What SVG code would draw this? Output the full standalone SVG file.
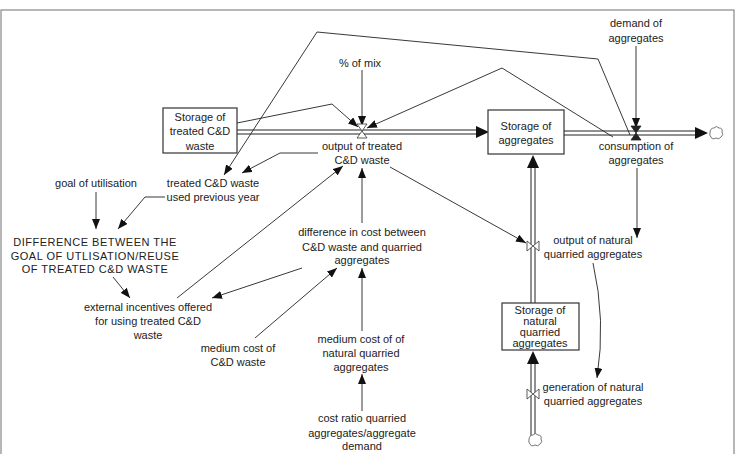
<svg xmlns="http://www.w3.org/2000/svg" width="739" height="454" viewBox="0 0 739 454">
<style>
text{font-family:"Liberation Sans",Arial,sans-serif;font-size:11px;fill:#222;text-anchor:middle}
.caps{font-size:11px;letter-spacing:0.5px}
.box{fill:#fff;stroke:#333;stroke-width:1.2}
.pipe{fill:none;stroke:#222;stroke-width:1}
.lnk{fill:none;stroke:#222;stroke-width:0.9}
.valve{fill:#fff;stroke:#333;stroke-width:0.8}
.ph{fill:#111}
.cloud{fill:#fff;stroke:#666;stroke-width:0.9}
</style>
<defs>
<marker id="ah" markerUnits="userSpaceOnUse" markerWidth="11" markerHeight="8" refX="10" refY="4" orient="auto">
<path d="M0,0 L10,4 L0,8 z" fill="#111"/>
</marker>
</defs>
<rect x="1" y="10" width="733" height="460" fill="#fff" stroke="#888" stroke-width="1.2"/>

<g id="pipes">
<line class="pipe" x1="237" y1="130" x2="478" y2="130"/>
<line class="pipe" x1="237" y1="134" x2="478" y2="134"/>
<path class="ph" d="M476,126 L489,132 L476,138 z"/>
<line class="pipe" x1="564" y1="131" x2="697" y2="131"/>
<line class="pipe" x1="564" y1="135" x2="697" y2="135"/>
<path class="ph" d="M695,127 L708,133 L695,139 z"/>
<line class="pipe" x1="531" y1="303" x2="531" y2="166"/>
<line class="pipe" x1="535" y1="303" x2="535" y2="166"/>
<path class="ph" d="M527,168 L533,155 L539,168 z"/>
<line class="pipe" x1="531" y1="437" x2="531" y2="362"/>
<line class="pipe" x1="535" y1="437" x2="535" y2="362"/>
<path class="ph" d="M527,364 L533,351 L539,364 z"/>
</g>

<g id="connectors">
<line class="lnk" x1="362" y1="70" x2="362" y2="126" marker-end="url(#ah)"/>
<polyline class="lnk" points="237,123 332,104 358,127" marker-end="url(#ah)"/>
<polyline class="lnk" points="613,137 502,68 367,128" marker-end="url(#ah)"/>
<polyline class="lnk" points="630,135 598,59 317,32 224,175" marker-end="url(#ah)"/>
<polyline class="lnk" points="318,153 280,153 242,173" marker-end="url(#ah)"/>
<line class="lnk" x1="96" y1="192" x2="96" y2="229" marker-end="url(#ah)"/>
<polyline class="lnk" points="165,197 145,197 118,229" marker-end="url(#ah)"/>
<line class="lnk" x1="113" y1="277" x2="130" y2="298" marker-end="url(#ah)"/>
<line class="lnk" x1="177" y1="298" x2="343" y2="166" marker-end="url(#ah)"/>
<line class="lnk" x1="302" y1="268" x2="212" y2="298" marker-end="url(#ah)"/>
<line class="lnk" x1="362" y1="223" x2="362" y2="168" marker-end="url(#ah)"/>
<line class="lnk" x1="255" y1="338" x2="337" y2="268" marker-end="url(#ah)"/>
<line class="lnk" x1="362" y1="331" x2="362" y2="268" marker-end="url(#ah)"/>
<line class="lnk" x1="362" y1="411" x2="362" y2="374" marker-end="url(#ah)"/>
<line class="lnk" x1="390" y1="167" x2="526" y2="243" marker-end="url(#ah)"/>
<line class="lnk" x1="636" y1="46" x2="636" y2="128" marker-end="url(#ah)"/>
<line class="lnk" x1="637" y1="168" x2="637" y2="238" marker-end="url(#ah)"/>
<path class="lnk" d="M593,263 Q606,320 597,378" marker-end="url(#ah)"/>
</g>

<g id="storage-treated">
<rect class="box" x="163" y="108" width="74" height="45"/>
<text x="200" y="121">Storage of</text>
<text x="200" y="135">treated C&amp;D</text>
<text x="200" y="150">waste</text>
</g>

<g id="storage-aggregates">
<rect class="box" x="488" y="110" width="76" height="44"/>
<text x="526" y="130">Storage of</text>
<text x="526" y="144">aggregates</text>
</g>

<g id="storage-natural">
<rect class="box" x="502" y="303" width="77" height="47"/>
<text x="540" y="314">Storage of</text>
<text x="540" y="325">natural</text>
<text x="540" y="336">quarried</text>
<text x="540" y="347">aggregates</text>
</g>

<g id="output-treated">
<path class="valve" d="M357,124 L367,124 L362,131 z M357,138 L367,138 L362,131 z"/>
<text x="362" y="150">output of treated</text>
<text x="362" y="164">C&amp;D waste</text>
</g>

<g id="consumption">
<path d="M631,126 L641,126 L636,133 z M631,140 L641,140 L636,133 z" fill="#222" stroke="#222" stroke-width="0.8"/>
<text x="636" y="150">consumption of</text>
<text x="636" y="164">aggregates</text>
</g>

<g id="cloud-out">
<path class="cloud" d="M710,133 q0,-5 4,-5 q2,-3 5,0 q4,0 3,4 q2,3 -1,5 q-2,3 -5,1 q-4,2 -5,-1 q-2,-2 -1,-4 z"/>
</g>

<g id="output-natural">
<path class="valve" d="M527,241 L527,251 L533,246 z M539,241 L539,251 L533,246 z"/>
<text x="593" y="244">output of natural</text>
<text x="593" y="258">quarried aggregates</text>
</g>

<g id="generation-natural">
<path class="valve" d="M527,389 L527,399 L533,394 z M539,389 L539,399 L533,394 z"/>
<text x="593" y="391">generation of natural</text>
<text x="593" y="405">quarried aggregates</text>
</g>

<g id="cloud-in">
<path class="cloud" d="M529,440 q0,-5 4,-5 q2,-3 5,0 q4,0 3,4 q2,3 -1,5 q-2,3 -5,1 q-4,2 -5,-1 q-2,-2 -1,-4 z"/>
</g>

<g id="pct-mix">
<text x="360" y="67">% of mix</text>
</g>

<g id="demand">
<text x="636" y="27">demand of</text>
<text x="636" y="42">aggregates</text>
</g>

<g id="treated-prev-year">
<text x="213" y="187">treated C&amp;D waste</text>
<text x="213" y="201">used previous year</text>
</g>

<g id="goal">
<text x="96" y="187">goal of utilisation</text>
</g>

<g id="difference-goal">
<text class="caps" x="95" y="246">DIFFERENCE BETWEEN THE</text>
<text class="caps" x="95" y="260">GOAL OF UTLISATION/REUSE</text>
<text class="caps" x="95" y="273">OF TREATED C&amp;D WASTE</text>
</g>

<g id="external-incentives">
<text x="148" y="311">external incentives offered</text>
<text x="148" y="325">for using treated C&amp;D</text>
<text x="148" y="339">waste</text>
</g>

<g id="difference-cost">
<text x="362" y="236">difference in cost between</text>
<text x="362" y="251">C&amp;D waste and quarried</text>
<text x="362" y="264">aggregates</text>
</g>

<g id="medium-cost-cd">
<text x="238" y="352">medium cost of</text>
<text x="238" y="366">C&amp;D waste</text>
</g>

<g id="medium-cost-natural">
<text x="361" y="343">medium cost of of</text>
<text x="361" y="357">natural quarried</text>
<text x="361" y="371">aggregates</text>
</g>

<g id="cost-ratio">
<text x="362" y="422">cost ratio quarried</text>
<text x="362" y="437">aggregates/aggregate</text>
<text x="362" y="450">demand</text>
</g>
</svg>
